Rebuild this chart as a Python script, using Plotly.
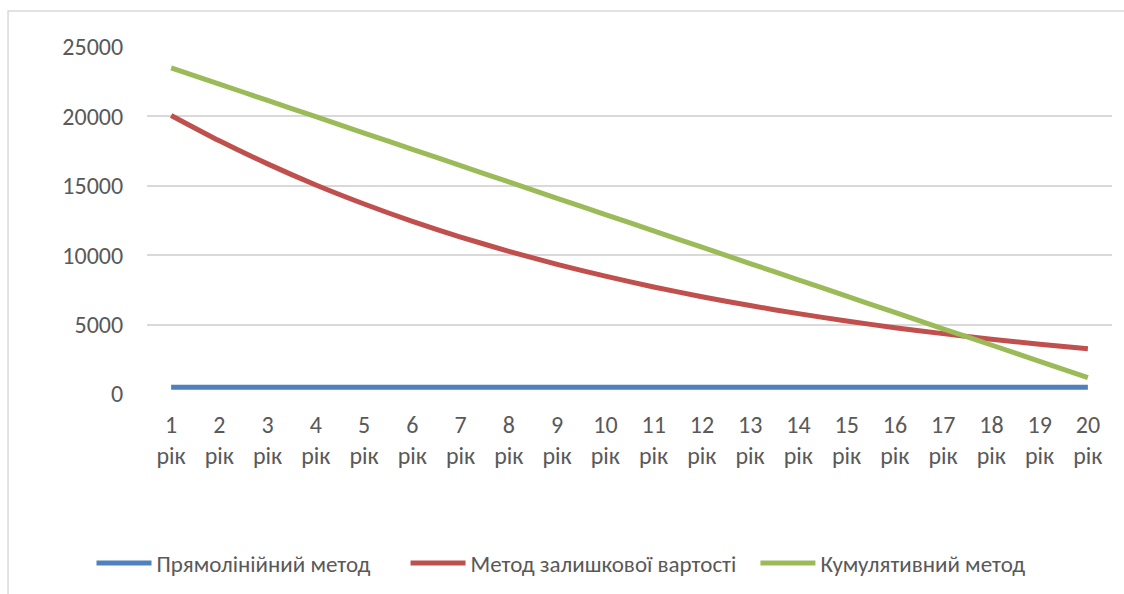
import plotly.graph_objects as go

# Year labels along the category axis
years = list(range(1, 21))
year_labels = [f"{y}<br>рік" for y in years]
y_ticks = [0, 5000, 10000, 15000, 20000, 25000]

# Residual value by depreciation method
straight_line = [480] * 20
declining_balance = [20070, 18240, 16580, 15060, 13690, 12440, 11310, 10280, 9340, 8490,
                     7710, 7010, 6370, 5790, 5260, 4780, 4350, 3950, 3590, 3260]
cumulative = [23500, 22330, 21150, 19980, 18800, 17630, 16450, 15280, 14100, 12930,
              11750, 10580, 9400, 8230, 7050, 5880, 4700, 3530, 2350, 1180]

series_names = ["Прямолінійний метод", "Метод залишкової вартості", "Кумулятивний метод"]
series_colors = ["#4F81BD", "#C0504D", "#9BBB59"]
series_values = [straight_line, declining_balance, cumulative]

FONT = "Carlito, Calibri, Lato, sans-serif"
TEXT = "#595959"
FS = 24

# each series gets its own legend box so the entries can sit at set offsets
legend_ids = ["legend", "legend2", "legend3"]
legend_x = [0.0814, 0.3608, 0.6721]

fig = go.Figure()
for name, color, vals, lid in zip(series_names, series_colors, series_values, legend_ids):
    fig.add_trace(go.Scatter(
        x=years, y=vals, name=name, mode="lines", legend=lid, showlegend=True,
        line=dict(color=color, width=5, shape="spline", smoothing=0.6),
    ))

legend_style = dict(
    orientation="h", xref="container", xanchor="left",
    yref="container", y=1 - 563 / 594, yanchor="middle",
    font=dict(family=FONT, size=23, color=TEXT), itemwidth=55,
    bgcolor="rgba(0,0,0,0)", borderwidth=0,
)

fig.update_layout(
    width=1124, height=594,
    showlegend=True,
    margin=dict(l=147, r=12, t=47, b=200),
    paper_bgcolor="white", plot_bgcolor="white",
    font=dict(family=FONT, size=FS, color=TEXT),
    xaxis=dict(
        range=[0.5, 20.5], tickmode="array", tickvals=years, ticktext=year_labels,
        showgrid=False, zeroline=False, showline=False,
        ticks="outside", ticklen=9, tickcolor="rgba(0,0,0,0)",
        tickfont=dict(family=FONT, size=FS, color=TEXT),
    ),
    yaxis=dict(
        range=[0, 25000], tickmode="array", tickvals=y_ticks,
        ticktext=[str(v) for v in y_ticks],
        showgrid=True, gridcolor="#D9D9D9", gridwidth=1.5, zeroline=False,
        showline=False, ticks="outside", ticklen=18, tickcolor="rgba(0,0,0,0)",
        tickfont=dict(family=FONT, size=FS, color=TEXT),
    ),
    legend=dict(x=legend_x[0], **legend_style),
    legend2=dict(x=legend_x[1], **legend_style),
    legend3=dict(x=legend_x[2], **legend_style),
    shapes=[dict(
        type="rect", xref="paper", yref="paper",
        x0=-0.144, x1=1.05, y0=-0.7, y1=1.1037,
        line=dict(color="#D9D9D9", width=1.5), fillcolor="rgba(0,0,0,0)", layer="below",
    )],
)

fig.write_html("out.html")
